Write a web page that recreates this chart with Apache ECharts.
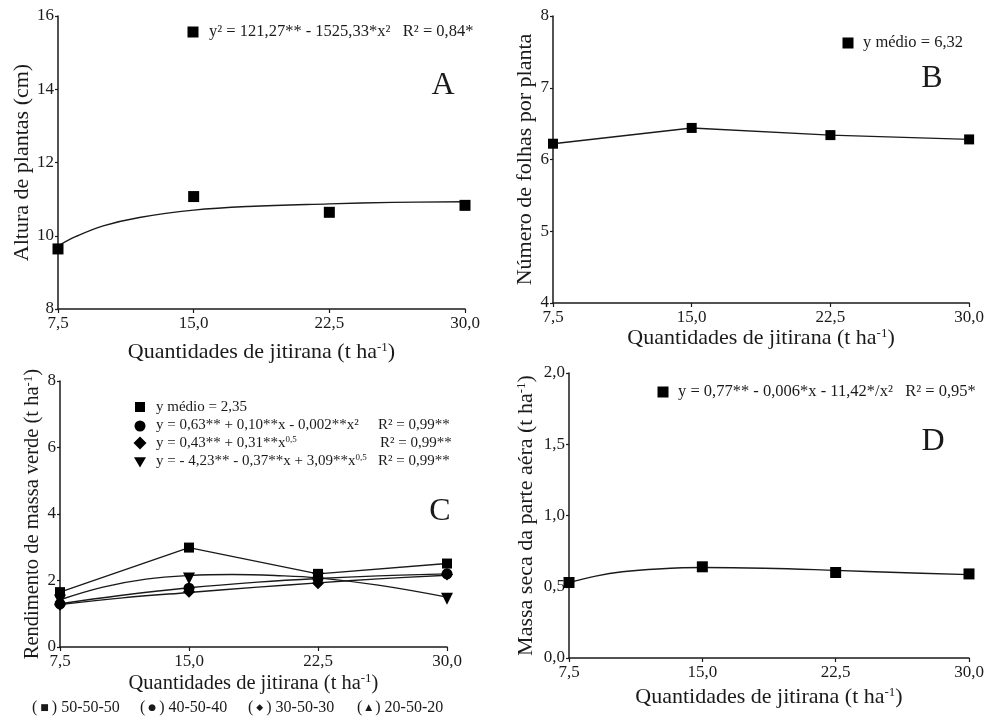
<!DOCTYPE html>
<html><head><meta charset="utf-8">
<script src="https://cdn.jsdelivr.net/npm/echarts@6/dist/echarts.min.js"></script>
<style>html,body{margin:0;padding:0;background:#fff}#c{width:987px;height:717px}</style>
</head><body><div id="c"></div><script>
// ---- data ----
const xVals = [7.5, 15, 22.5, 30];
const xTickLabels = ['7,5', '15,0', '22,5', '30,0'];
// A: Altura de plantas (cm)
const alturaObs = [9.64, 11.07, 10.64, 10.83];
const alturaFitX = [7.5, 8.5, 10, 12, 15, 18, 22.5, 26, 30];
const alturaFitY = [9.72, 9.98, 10.27, 10.5, 10.7, 10.8, 10.87, 10.91, 10.93];
// B: Número de folhas por planta
const folhasObs = [6.22, 6.44, 6.34, 6.28];
// C: Rendimento de massa verde (t ha-1)
const mv505050 = [1.65, 2.99, 2.2, 2.51];
const mv405040 = [1.3, 1.77, 2.06, 2.2];
const mv305030 = [1.27, 1.66, 1.92, 2.18];
const mv205020 = [1.4, 2.06, 2.06, 1.45];
const fit405040X = [7.5, 11, 15, 19, 22.5, 26, 30];
const fit405040Y = [1.3, 1.55, 1.78, 1.95, 2.06, 2.14, 2.2];
const fit305030X = [7.5, 11, 15, 19, 22.5, 26, 30];
const fit305030Y = [1.28, 1.47, 1.64, 1.8, 1.93, 2.05, 2.16];
const fit205020X = [7.5, 10, 12.5, 15, 17.5, 20, 22.5, 26, 30];
const fit205020Y = [1.42, 1.8, 2.04, 2.15, 2.18, 2.15, 2.08, 1.86, 1.5];
// D: Massa seca da parte aérea (t ha-1)
const msObs = [0.53, 0.64, 0.6, 0.59];
const msFitX = [7.5, 9, 10.5, 12.5, 15, 18.5, 22.5, 26, 30];
const msFitY = [0.53, 0.575, 0.605, 0.625, 0.635, 0.63, 0.615, 0.6, 0.585];
// tick label sets
const yTicksA = [8, 10, 12, 14, 16];
const yTicksB = [4, 5, 6, 7, 8];
const yTicksC = [0, 2, 4, 6, 8];
const yTicksD = ['0,0', '0,5', '1,0', '1,5', '2,0'];
const legendC = ['50-50-50', '40-50-40', '30-50-30', '20-50-20'];

// ---- helpers ----
const pair = (xs, ys) => xs.map((x, i) => [x, ys[i]]);
const FONT = 'Liberation Serif';
const INK = '#1a1a1a';
const sup = { s: { fontSize: 13, fontFamily: FONT, color: INK, verticalAlign: 'top', padding: [0, 0, 10, 0] } };
const supSmall = { s: { fontSize: 9, fontFamily: FONT, color: INK, verticalAlign: 'top', padding: [0, 0, 7, 0] } };

function xAxis(i, gap, fs) {
  return {
    type: 'value', gridIndex: i, min: 7.5, max: 30, interval: 7.5,
    name: 'Quantidades de jitirana (t ha{s|-1})', nameLocation: 'middle', nameGap: gap,
    nameTextStyle: { fontSize: fs, fontFamily: FONT, color: INK, rich: sup },
    axisLine: { lineStyle: { color: INK, width: 1.5 } },
    axisTick: { length: 4, lineStyle: { color: INK, width: 1.2 } },
    axisLabel: { fontSize: 17, fontFamily: FONT, color: INK, margin: 6,
      formatter: v => xTickLabels[xVals.indexOf(v)] },
    splitLine: { show: false }
  };
}
function yAxis(i, min, max, interval, ticks, name, gap, fs) {
  return {
    type: 'value', gridIndex: i, min, max, interval,
    name, nameLocation: 'middle', nameGap: gap, nameRotate: 90,
    nameTextStyle: { fontSize: fs, fontFamily: FONT, color: INK, rich: sup },
    axisLine: { show: true, lineStyle: { color: INK, width: 1.5 } },
    axisTick: { show: true, length: 3, lineStyle: { color: INK, width: 1.2 } },
    axisLabel: { fontSize: 17, fontFamily: FONT, color: INK, margin: 4,
      formatter: v => String(ticks[Math.round((v - min) / interval)]) },
    splitLine: { show: false }
  };
}
const lineStyle = { color: INK, width: 1.4 };
function fitLine(i, xs, ys) {
  return { type: 'line', xAxisIndex: i, yAxisIndex: i, data: pair(xs, ys), smooth: 0.4,
    showSymbol: false, lineStyle, z: 2, silent: true };
}
function marks(i, ys, symbol, size, rot) {
  return { type: 'scatter', xAxisIndex: i, yAxisIndex: i, data: pair(xVals, ys), symbol,
    symbolSize: size, symbolRotate: rot || 0, itemStyle: { color: '#000', opacity: 1 }, z: 5 };
}

const g = [];
function txt(x, y, text, size, align, rich) {
  g.push({ type: 'text', x, y, style: { text, fill: INK, font: size + 'px "' + FONT + '"',
    align: align || 'left', verticalAlign: 'middle', rich: rich || sup } });
}
function sq(x, y, s) { g.push({ type: 'rect', shape: { x: x - s / 2, y: y - s / 2, width: s, height: s }, style: { fill: '#000' } }); }
function circ(x, y, r) { g.push({ type: 'circle', shape: { cx: x, cy: y, r }, style: { fill: '#000' } }); }
function dia(x, y, r) { g.push({ type: 'polygon', shape: { points: [[x, y - r], [x + r, y], [x, y + r], [x - r, y]] }, style: { fill: '#000' } }); }
function tri(x, y, r) { g.push({ type: 'polygon', shape: { points: [[x - r, y - r * 0.8], [x + r, y - r * 0.8], [x, y + r * 0.9]] }, style: { fill: '#000' } }); }

// panel A annotations
sq(193, 32, 11);
txt(209, 32, 'y² = 121,27** - 1525,33*x²   R² = 0,84*', 16.5);
txt(443, 86, 'A', 32, 'center');
// panel B
sq(848, 43, 11);
txt(863, 43, 'y médio = 6,32', 16.5);
txt(932, 79, 'B', 32, 'center');
// panel C
sq(140, 407, 10);
txt(156, 407, 'y médio = 2,35', 15);
circ(140, 426, 5.5);
txt(156, 425, 'y = 0,63** + 0,10**x - 0,002**x²', 15);
txt(378, 425, 'R² = 0,99**', 15);
dia(140, 443, 6.5);
txt(156, 443, 'y = 0,43** + 0,31**x{s|0,5}', 15, 'left', supSmall);
txt(380, 443, 'R² = 0,99**', 15);
tri(140, 462, 6);
txt(156, 461, 'y = - 4,23** - 0,37**x + 3,09**x{s|0,5}', 15, 'left', supSmall);
txt(378, 461, 'R² = 0,99**', 15);
txt(440, 512, 'C', 32, 'center');
// bottom legend
const legSym = ['■', '●', '◆', '▲'];
const legX = [32, 140, 248, 357];
const richLeg = { m: { fontSize: 9, fontFamily: 'DejaVu Sans', color: INK, padding: [0, 3, 0, 3] } };
legendC.forEach((n, i) => txt(legX[i], 708, '({m|' + legSym[i] + '}) ' + n, 16, 'left', richLeg));
// panel D
sq(663, 392, 11);
txt(678, 392, 'y = 0,77** - 0,006*x - 11,42*/x²   R² = 0,95*', 16.5);
txt(933, 442, 'D', 32, 'center');

const option = {
  backgroundColor: '#fff',
  animation: false,
  grid: [
    { left: 58, top: 16, width: 407, height: 293 },
    { left: 553, top: 16, width: 417, height: 287 },
    { left: 60, top: 381, width: 387, height: 266 },
    { left: 569, top: 373, width: 400, height: 285 }
  ],
  xAxis: [xAxis(0, 32, 22), xAxis(1, 24, 22), xAxis(2, 25, 20.5), xAxis(3, 28, 22)],
  yAxis: [
    yAxis(0, 8, 16, 2, yTicksA, 'Altura de plantas (cm)', 25, 22),
    yAxis(1, 4, 8, 1, yTicksB, 'Número de folhas por planta', 15, 22),
    yAxis(2, 0, 8, 2, yTicksC, 'Rendimento de massa verde (t ha{s|-1})', 13, 20.5),
    yAxis(3, 0, 2, 0.5, yTicksD, 'Massa seca da parte aéra (t ha{s|-1})', 31, 22)
  ],
  series: [
    fitLine(0, alturaFitX, alturaFitY),
    marks(0, alturaObs, 'rect', 11),
    { type: 'line', xAxisIndex: 1, yAxisIndex: 1, data: pair(xVals, folhasObs), symbol: 'rect',
      symbolSize: 10, lineStyle, itemStyle: { color: '#000' } },
    { type: 'line', xAxisIndex: 2, yAxisIndex: 2, data: pair(xVals, mv505050), symbol: 'rect',
      symbolSize: 10, lineStyle, itemStyle: { color: '#000' }, z: 4 },
    fitLine(2, fit405040X, fit405040Y),
    fitLine(2, fit305030X, fit305030Y),
    fitLine(2, fit205020X, fit205020Y),
    marks(2, mv405040, 'circle', 11),
    marks(2, mv305030, 'diamond', 12),
    marks(2, mv205020, 'triangle', 12, 180),
    fitLine(3, msFitX, msFitY),
    marks(3, msObs, 'rect', 11)
  ],
  graphic: g
};
echarts.init(document.getElementById('c'), null, { renderer: 'canvas' }).setOption(option);
</script></body></html>
